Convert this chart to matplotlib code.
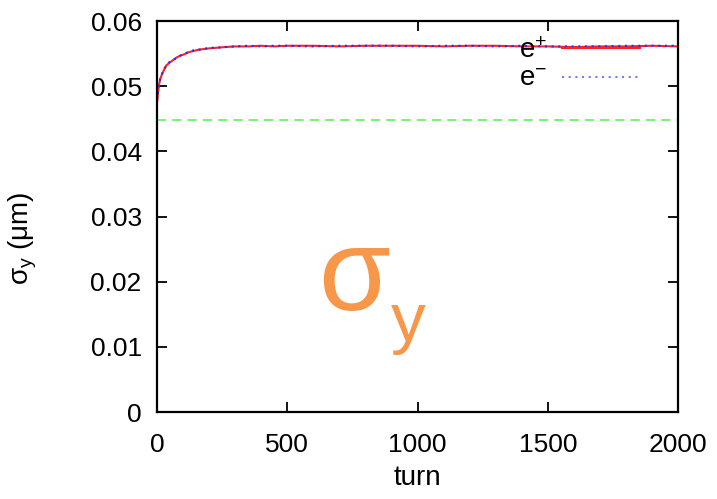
import matplotlib
matplotlib.use("Agg")
import matplotlib.pyplot as plt

plt.rcParams['font.family'] = ['Liberation Sans', 'DejaVu Sans']
plt.rcParams['mathtext.fontset'] = 'custom'
plt.rcParams['mathtext.rm'] = 'Liberation Sans'
plt.rcParams['mathtext.it'] = 'Liberation Sans'
plt.rcParams['mathtext.bf'] = 'Liberation Sans:bold'

# data
turns = [0, 4, 8, 12, 16, 20, 28, 36, 45, 55, 65, 75, 90, 105, 120, 140, 160,
         180, 200, 230, 260, 300, 350, 400, 450, 500, 600, 700, 800, 900, 1000,
         1100, 1200, 1300, 1400, 1500, 1600, 1700, 1800, 1900, 2000]
sig_pos = [0.0475, 0.0490, 0.0503, 0.0510, 0.0515, 0.0519, 0.0526, 0.0532, 0.0535,
           0.0538, 0.0541, 0.0544, 0.0547, 0.0549, 0.0552, 0.0554, 0.0556, 0.0557,
           0.0558, 0.0559, 0.0560, 0.0561, 0.0561, 0.0562, 0.0561, 0.0562, 0.0562,
           0.0561, 0.0562, 0.0562, 0.0562, 0.0561, 0.0562, 0.0562, 0.0561, 0.0561,
           0.0560, 0.0561, 0.0561, 0.0562, 0.0561]
sig_neg = [0.0478, 0.0492, 0.0502, 0.0511, 0.0514, 0.0520, 0.0527, 0.0531, 0.0536,
           0.0539, 0.0541, 0.0543, 0.0547, 0.0550, 0.0552, 0.0555, 0.0556, 0.0557,
           0.0559, 0.0559, 0.0560, 0.0561, 0.0562, 0.0561, 0.0562, 0.0562, 0.0561,
           0.0562, 0.0562, 0.0562, 0.0561, 0.0562, 0.0562, 0.0561, 0.0562, 0.0561,
           0.0561, 0.0561, 0.0562, 0.0562, 0.0562]
sig_ref = 0.0448
x_ticks = [0, 500, 1000, 1500, 2000]
y_ticks = [0, 0.01, 0.02, 0.03, 0.04, 0.05, 0.06]
y_ticklabels = ['0', '0.01', '0.02', '0.03', '0.04', '0.05', '0.06']

fig = plt.figure(figsize=(7.17, 4.99), dpi=100)
ax = fig.add_axes([0.219, 0.1743, 0.7266, 0.7836])

ax.plot([0, 2000], [sig_ref, sig_ref], color='#55ee55', lw=1.1, ls=(0, (6, 4)))
ax.plot(turns, sig_pos, color='#ff2020', lw=1.5, label='e$^{+}$')
ax.plot(turns, sig_neg, color='#2a2aff', lw=1.5, ls=(0, (1.0, 2.2)), label='e$^{-}$')

ax.set_xlim(0, 2000)
ax.set_ylim(0, 0.06)
ax.set_xticks(x_ticks)
ax.set_yticks(y_ticks)
ax.set_yticklabels(y_ticklabels)
ax.tick_params(direction='in', length=7, width=1.3, labelsize=19,
               top=True, right=True)
ax.tick_params(axis='x', pad=15)
ax.tick_params(axis='y', pad=11)
for s in ax.spines.values():
    s.set_linewidth(1.6)

ax.set_xlabel('turn', fontsize=20, labelpad=6)
ax.set_ylabel(r'$\sigma_{y}$ ($\mu$m)', fontsize=20)
ax.yaxis.set_label_coords(-0.226, 0.445)

leg = ax.legend(loc='upper right', bbox_to_anchor=(0.927, 0.956), frameon=False,
                markerfirst=False, fontsize=20, handlelength=2.8,
                handletextpad=0.55, labelspacing=0.08, borderpad=0,
                borderaxespad=0)
leg.get_lines()[1].set_color('#7777ff')

ax.text(0.31, 0.261, 'σ', transform=ax.transAxes, fontsize=84, color='#f7974a',
        ha='left', va='baseline')
ax.text(0.449, 0.182, 'y', transform=ax.transAxes, fontsize=50, color='#f7974a',
        ha='left', va='baseline')

fig.savefig('out.png', dpi=100)
